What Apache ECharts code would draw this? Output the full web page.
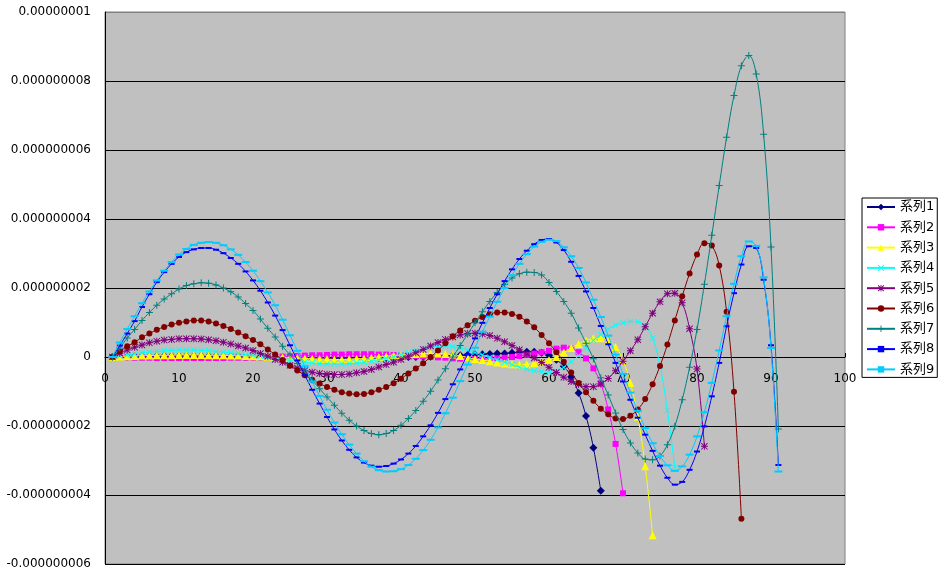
<!DOCTYPE html>
<html>
<head>
<meta charset="utf-8">
<script src="https://cdn.jsdelivr.net/npm/echarts@6/dist/echarts.min.js"></script>
<style>
html,body{margin:0;padding:0;background:#fff;}
#chart{width:942px;height:577px;}
</style>
</head>
<body>
<div id="chart"></div>
<script>
// x positions (point index)
const xValues = [1,2,3,4,5,6,7,8,9,10,11,12,13,14,15,16,17,18,19,20,21,22,23,24,25,26,27,28,29,30,31,32,33,34,35,36,37,38,39,40,41,42,43,44,45,46,47,48,49,50,51,52,53,54,55,56,57,58,59,60,61,62,63,64,65,66,67,68,69,70,71,72,73,74,75,76,77,78,79,80,81,82,83,84,85,86,87,88,89,90,91];

// values in units of 1e-9
const series1 = [0,0.01,0.01,0.02,0.02,0.02,0.03,0.03,0.03,0.03,
  0.03,0.03,0.03,0.03,0.03,0.02,0.02,0.02,0.01,0.01,
  0.01,0,0,-0.01,-0.01,-0.02,-0.02,-0.03,-0.03,-0.03,
  -0.03,-0.03,-0.03,-0.03,-0.03,-0.02,-0.02,-0.02,-0.01,-0.01,
  0,0,0.01,0.01,0.02,0.03,0.04,0.05,0.06,0.07,
  0.08,0.09,0.1,0.1,0.12,0.14,0.15,0.15,0.12,0.05,
  -0.08,-0.27,-0.57,-1.04,-1.71,-2.63,-3.88];

const series2 = [0,-0.01,-0.01,-0.02,-0.02,-0.02,-0.03,-0.03,-0.03,-0.03,
  -0.03,-0.03,-0.03,-0.03,-0.03,-0.03,-0.02,-0.02,-0.02,-0.02,
  -0.01,-0.01,0,0.01,0.02,0.03,0.04,0.05,0.05,0.06,
  0.07,0.07,0.08,0.08,0.08,0.08,0.07,0.07,0.06,0.05,
  0.04,0.03,0.02,0.01,-0.01,-0.02,-0.04,-0.05,-0.06,-0.06,
  -0.06,-0.05,-0.04,-0.02,0,0.03,0.06,0.1,0.14,0.18,
  0.24,0.27,0.24,0.14,-0.04,-0.33,-0.77,-1.52,-2.52,-3.95];

const series3 = [0,0.01,0.02,0.03,0.04,0.04,0.05,0.05,0.05,0.06,
  0.06,0.06,0.06,0.05,0.05,0.05,0.04,0.04,0.03,0.02,
  0.02,0.01,0,-0.01,-0.02,-0.03,-0.04,-0.05,-0.06,-0.06,
  -0.07,-0.07,-0.06,-0.05,-0.04,-0.02,0,0.02,0.04,0.06,
  0.08,0.09,0.1,0.1,0.1,0.09,0.07,0.03,-0.02,-0.06,
  -0.09,-0.12,-0.16,-0.19,-0.21,-0.22,-0.21,-0.18,-0.13,-0.09,
  0,0.13,0.26,0.38,0.48,0.54,0.54,0.47,0.29,-0.1,
  -0.75,-1.73,-3.17,-5.17];

const series4 = [0,0.03,0.06,0.09,0.12,0.14,0.16,0.18,0.19,0.2,
  0.2,0.2,0.19,0.18,0.16,0.14,0.12,0.1,0.07,0.05,
  0.02,-0.01,-0.04,-0.07,-0.1,-0.13,-0.15,-0.17,-0.19,-0.2,
  -0.2,-0.2,-0.19,-0.17,-0.15,-0.12,-0.08,-0.04,0.01,0.07,
  0.13,0.19,0.24,0.28,0.31,0.32,0.3,0.26,0.2,0.13,
  0.06,-0.01,-0.08,-0.15,-0.22,-0.29,-0.35,-0.4,-0.43,-0.44,
  -0.41,-0.3,-0.14,0.04,0.26,0.48,0.65,0.8,0.92,0.99,
  1.03,1.02,0.9,0.55,-0.25,-1.55,-3.2];

const series5 = [0,0.11,0.2,0.28,0.35,0.41,0.46,0.49,0.51,0.53,
  0.53,0.53,0.52,0.5,0.47,0.43,0.38,0.32,0.26,0.19,
  0.1,0.02,-0.07,-0.15,-0.24,-0.32,-0.39,-0.44,-0.48,-0.5,
  -0.51,-0.51,-0.49,-0.46,-0.42,-0.36,-0.29,-0.22,-0.15,-0.07,
  0.02,0.12,0.22,0.32,0.42,0.51,0.58,0.64,0.68,0.69,
  0.67,0.62,0.54,0.44,0.33,0.21,0.09,-0.03,-0.16,-0.3,
  -0.45,-0.59,-0.71,-0.8,-0.86,-0.86,-0.78,-0.62,-0.4,-0.12,
  0.18,0.5,0.88,1.27,1.6,1.83,1.85,1.57,0.82,-0.35,
  -2.59];

const series6 = [0,0.16,0.31,0.43,0.57,0.68,0.79,0.87,0.94,0.99,
  1.03,1.06,1.06,1.03,0.97,0.9,0.81,0.71,0.6,0.49,
  0.37,0.22,0.07,-0.09,-0.25,-0.39,-0.53,-0.66,-0.77,-0.87,
  -0.95,-1.02,-1.06,-1.08,-1.07,-1.02,-0.95,-0.87,-0.76,-0.63,
  -0.48,-0.33,-0.18,0,0.19,0.4,0.6,0.77,0.92,1.05,
  1.16,1.24,1.29,1.29,1.25,1.17,1.03,0.86,0.64,0.4,
  0.14,-0.14,-0.45,-0.75,-1.02,-1.27,-1.5,-1.66,-1.78,-1.8,
  -1.7,-1.52,-1.22,-0.79,-0.26,0.36,1.06,1.76,2.42,2.97,
  3.3,3.23,2.65,1.31,-1.01,-4.69];

const series7 = [0,0.26,0.55,0.8,1.06,1.29,1.5,1.68,1.83,1.97,
  2.07,2.12,2.15,2.14,2.09,2.0,1.89,1.74,1.55,1.35,
  1.1,0.83,0.58,0.31,0.06,-0.19,-0.43,-0.67,-0.92,-1.16,
  -1.4,-1.63,-1.83,-2.0,-2.13,-2.22,-2.25,-2.22,-2.13,-1.98,
  -1.78,-1.55,-1.28,-0.99,-0.67,-0.34,0,0.33,0.66,0.99,
  1.31,1.61,1.87,2.1,2.29,2.41,2.46,2.45,2.38,2.16,
  1.9,1.61,1.27,0.84,0.4,-0.05,-0.6,-1.1,-1.62,-2.1,
  -2.49,-2.78,-2.96,-2.98,-2.87,-2.54,-2.01,-1.24,-0.3,0.8,
  2.11,3.53,4.97,6.37,7.58,8.44,8.74,8.2,6.46,3.19,
  -2.09];

const series8 = [0,0.33,0.68,1.04,1.45,1.82,2.17,2.46,2.7,2.9,
  3.04,3.12,3.16,3.16,3.11,3.01,2.87,2.7,2.48,2.22,
  1.92,1.58,1.2,0.78,0.34,-0.1,-0.53,-0.95,-1.35,-1.74,
  -2.1,-2.42,-2.69,-2.91,-3.06,-3.15,-3.18,-3.16,-3.09,-2.97,
  -2.8,-2.58,-2.3,-1.98,-1.62,-1.22,-0.79,-0.36,0.08,0.54,
  0.99,1.42,1.82,2.2,2.54,2.84,3.08,3.27,3.39,3.42,
  3.32,3.1,2.76,2.35,1.9,1.42,0.9,0.37,-0.17,-0.71,
  -1.24,-1.76,-2.25,-2.72,-3.15,-3.5,-3.7,-3.62,-3.27,-2.74,
  -2.01,-1.14,-0.17,0.89,1.85,2.68,3.21,3.16,2.24,0.34,
  -3.13];

const series9 = [0,0.42,0.81,1.18,1.56,1.9,2.22,2.5,2.75,2.97,
  3.13,3.25,3.31,3.33,3.31,3.24,3.12,2.96,2.75,2.5,
  2.2,1.87,1.5,1.08,0.63,0.18,-0.27,-0.71,-1.13,-1.53,
  -1.9,-2.24,-2.54,-2.8,-3.02,-3.18,-3.28,-3.32,-3.31,-3.25,
  -3.13,-2.95,-2.7,-2.4,-2.04,-1.63,-1.18,-0.7,-0.22,0.27,
  0.73,1.17,1.6,2.0,2.37,2.7,2.98,3.2,3.34,3.4,
  3.36,3.18,2.92,2.58,2.16,1.66,1.16,0.62,0.07,-0.49,
  -1.03,-1.56,-2.06,-2.5,-2.87,-3.14,-3.3,-3.17,-2.83,-2.3,
  -1.6,-0.75,0.19,1.18,2.12,2.92,3.35,3.22,2.31,0.26,
  -3.32];

const seriesNames = ['系列1','系列2','系列3','系列4','系列5','系列6','系列7','系列8','系列9'];
const UNIT = 1e-9;
const Y_MIN = -6e-9, Y_MAX = 1e-8, Y_STEP = 2e-9;

const colors = ['#000080','#FF00FF','#FFFF00','#00FFFF','#800080','#800000','#008080','#0000FF','#00CCFF'];
const PLUS = 'path://M3,0H4V3H7V4H4V7H3V4H0V3H3Z';
const CROSS = 'path://M0.7,0L3.5,2.8L6.3,0L7,0.7L4.2,3.5L7,6.3L6.3,7L3.5,4.2L0.7,7L0,6.3L2.8,3.5L0,0.7Z';
const STAR = 'path://M3,0H4V7H3Z M0,3H7V4H0Z M0.7,0L7,6.3L6.3,7L0,0.7Z M6.3,0L7,0.7L0.7,7L0,6.3Z';
const symbols = ['diamond','rect','triangle',CROSS,STAR,'circle',PLUS,'rect','rect'];
const symbolSizes = [8,6,8,6,7,6,7,[6,2],[8,2]];

const raw = [series1,series2,series3,series4,series5,series6,series7,series8,series9];

const GRID_TOP = 12, GRID_BOTTOM = 13, CH = 577;
const gridH = CH - GRID_TOP - GRID_BOTTOM;
// move the x axis up to the zero line of the y scale
const zeroOffset = -gridH * (0 - Y_MIN) / (Y_MAX - Y_MIN);

const chart = echarts.init(document.getElementById('chart'), null, {renderer:'canvas'});

const fmt = function(v){
  let s = Number(v).toFixed(9);
  if (s.indexOf('.') >= 0) s = s.replace(/0+$/,'').replace(/\.$/,'');
  if (s === '-0') s = '0';
  return s;
};

const option = {
  animation: false,
  backgroundColor: '#ffffff',
  textStyle: { fontFamily: '"DejaVu Sans", "Noto Sans CJK JP", sans-serif' },
  grid: {
    left: 105, right: 97, top: GRID_TOP, bottom: GRID_BOTTOM,
    show: true, backgroundColor: '#C0C0C0', borderColor: '#808080', borderWidth: 1,
    containLabel: false
  },
  legend: {
    orient: 'vertical',
    left: 862, top: 198,
    itemWidth: 28, itemHeight: 8, itemGap: 6.3,
    padding: [2, 3, 1, 4],
    backgroundColor: '#ffffff',
    borderColor: '#000000', borderWidth: 1, borderRadius: 0,
    textStyle: { fontSize: 13, color: '#000', fontFamily: '"DejaVu Sans", "Noto Sans CJK JP", sans-serif', lineHeight: 14 },
    data: seriesNames
  },
  xAxis: {
    type: 'value', min: 0, max: 100, interval: 10,
    position: 'bottom',
    offset: zeroOffset,
    axisLine: { show: true, onZero: false, lineStyle: { color: '#000', width: 1 } },
    axisTick: { show: true, inside: true, length: 4, lineStyle: { color: '#000' } },
    axisLabel: { color: '#000', fontSize: 12, margin: 16 },
    splitLine: { show: false }
  },
  yAxis: {
    type: 'value', min: Y_MIN, max: Y_MAX, interval: Y_STEP,
    axisLine: { show: true, onZero: false, lineStyle: { color: '#000', width: 1 } },
    axisTick: { show: false },
    axisLabel: { color: '#000', fontSize: 12, margin: 14, formatter: fmt },
    splitLine: { show: true, lineStyle: { color: ['#000','#000','#000','#000','#000','#000','#000','#000','#808080'], width: 1 } }
  },
  series: raw.map(function(arr, i){
    return {
      name: seriesNames[i],
      type: 'line',
      data: arr.map(function(v, j){ return [xValues[j], v * UNIT]; }),
      smooth: 0.4,
      symbol: symbols[i],
      symbolSize: symbolSizes[i],
      showSymbol: true,
      lineStyle: { color: colors[i], width: 1 },
      itemStyle: { color: colors[i], borderWidth: 0 },
      emphasis: { disabled: true },
      z: 2 + i
    };
  })
};
chart.setOption(option);
</script>
</body>
</html>
